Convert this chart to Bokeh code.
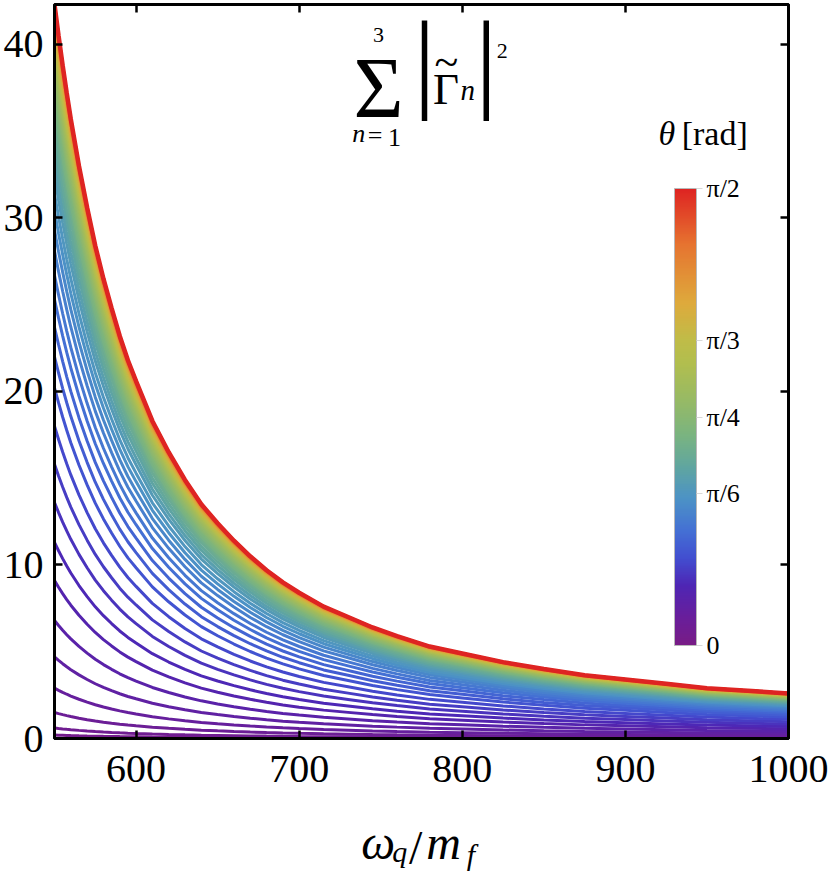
import numpy as np
from bokeh.plotting import figure
from bokeh.layouts import column
from bokeh.models import (ColumnDataSource, LinearColorMapper, ColorBar, FixedTicker,
                          Label, LinearAxis, Range1d, CustomLabelingPolicy)
from bokeh.embed import file_html
from bokeh.resources import INLINE

# ---------------- data ----------------
omega = [550, 552.5, 555, 557.5, 560, 565, 570, 575, 580, 585, 590, 595, 600, 610, 620,
         630, 640, 650, 660, 670, 680, 690, 700, 715, 730, 745, 760, 780, 800, 825, 850,
         875, 900, 925, 950, 975, 1000]
# the theta = pi/2 (top, red) curve
top_curve = [42.3, 40.5, 38.8, 37.2, 35.7, 33.0, 30.6, 28.4, 26.5, 24.8, 23.2, 21.8,
             20.6, 18.3, 16.5, 14.9, 13.5, 12.4, 11.4, 10.5, 9.7, 9.0, 8.4, 7.6, 7.0,
             6.4, 5.9, 5.3, 4.9, 4.4, 4.0, 3.65, 3.4, 3.15, 2.9, 2.75, 2.6]
# theta of each drawn curve (degrees)
theta_deg = [0, 1.5, 3, 4.5, 6, 7.5, 9, 10.5, 12, 13.5, 15, 16.5, 18, 19.5, 21, 22.5,
             24, 25.5, 27, 28.5, 30, 31.5, 33, 34.5, 36, 37.5, 39, 40.5, 42, 43.5, 45,
             46.5, 48, 49.5, 51, 52.5, 54, 55.5, 57, 58.5, 60, 61.5, 63, 64.5, 66, 67.5,
             69, 70.5, 72, 73.5, 75, 76.5, 78, 79.5, 81, 82.5, 84, 85.5, 87, 88.5, 90]
# value of each curve at omega = 550
start_values = [0.0, 0.2, 0.6, 1.5, 2.9, 4.7, 6.8, 9.1, 11.3, 13.6, 15.8, 18.0, 20.2,
                22.0, 23.7, 25.3, 26.7, 28.1, 29.3, 30.4, 31.4, 32.4, 33.2, 34.0, 34.7,
                35.4, 36.0, 36.5, 37.0, 37.5, 37.9, 38.3, 38.7, 39.0, 39.3, 39.6, 39.9,
                40.1, 40.3, 40.5, 40.7, 40.9, 41.1, 41.2, 41.35, 41.5, 41.6, 41.7, 41.8,
                41.9, 41.95, 42.0, 42.08, 42.13, 42.18, 42.22, 42.25, 42.27, 42.29, 42.3, 42.3]
x_ticks = [600, 700, 800, 900, 1000]
y_ticks = [0, 10, 20, 30, 40]
cb_ticks = [0, np.pi / 6, np.pi / 4, np.pi / 3, np.pi / 2]
cb_tick_labels = ["0", "π/6", "π/4", "π/3", "π/2"]

SERIF = "Liberation Serif"

# ---------------- colour map (rainbow, purple -> red) ----------------
stops = [(0.00, (120, 28, 134)), (0.06, (105, 30, 155)), (0.13, (78, 38, 180)),
         (0.19, (66, 78, 208)), (0.25, (68, 112, 212)), (0.32, (76, 146, 198)),
         (0.39, (96, 166, 160)), (0.46, (122, 180, 128)), (0.54, (152, 186, 100)),
         (0.62, (178, 190, 78)), (0.67, (192, 188, 72)), (0.75, (222, 170, 60)),
         (0.88, (230, 115, 48)), (1.00, (222, 36, 34))]
pos = np.array([s[0] for s in stops])
rgb = np.array([s[1] for s in stops], dtype=float)
t = np.linspace(0, 1, 256)
palette = ["#%02x%02x%02x" % tuple(int(round(np.interp(tt, pos, rgb[:, c]))) for c in range(3))
           for tt in t]
mapper = LinearColorMapper(palette=palette, low=0, high=np.pi / 2)

# ---------------- curves ----------------
top = np.array(top_curve)
shape = top / top[0]
xs, ys, th = [], [], []
for d, a in zip(theta_deg[:-1], start_values[:-1]):
    xs.append(omega)
    ys.append(list(a * shape))
    th.append(np.deg2rad(d))
src = ColumnDataSource(dict(xs=xs, ys=ys, theta=th))
src_top = ColumnDataSource(dict(xs=[omega], ys=[list(start_values[-1] * shape)],
                                theta=[np.deg2rad(theta_deg[-1])]))

p = figure(width=830, height=805, x_range=Range1d(550, 1000), y_range=Range1d(0, 42.3),
           output_backend="svg", toolbar_location=None,
           min_border_left=52, min_border_right=42, min_border_top=2, min_border_bottom=67)
p.grid.visible = False
p.outline_line_color = "black"
p.outline_line_width = 3
p.background_fill_color = "white"
p.border_fill_color = "white"

p.multi_line("xs", "ys", source=src, line_width=3,
             line_color={"field": "theta", "transform": mapper})
p.multi_line("xs", "ys", source=src_top, line_width=4.5,
             line_color={"field": "theta", "transform": mapper})

# ---------------- axes ----------------
def style_axis(ax, ticks, show_labels):
    ax.ticker = FixedTicker(ticks=ticks)
    ax.major_tick_in = 8
    ax.major_tick_out = 0
    ax.minor_tick_line_color = None
    ax.major_tick_line_width = 2.5
    ax.major_tick_line_color = "black"
    ax.axis_line_width = 3
    ax.axis_line_color = "black"
    if show_labels:
        ax.major_label_text_font = SERIF
        ax.major_label_text_font_size = "40px"
        ax.major_label_text_color = "black"
    else:
        ax.major_label_policy = CustomLabelingPolicy(
            code="for (const i of indices) { if (i < 0) { yield i } }")
        ax.major_label_text_font_size = "1px"
        ax.major_label_standoff = 0

ax_b = p.xaxis[0]
ax_l = p.yaxis[0]
style_axis(ax_b, x_ticks, True)
style_axis(ax_l, y_ticks, True)
ax_b.major_label_standoff = 17
ax_l.major_label_standoff = 11
ax_r = LinearAxis()
style_axis(ax_r, y_ticks, False)
p.add_layout(ax_r, "right")
ax_t = LinearAxis()
style_axis(ax_t, x_ticks, False)
p.add_layout(ax_t, "above")

# ---------------- colour bar ----------------
cb = ColorBar(color_mapper=mapper, ticker=FixedTicker(ticks=cb_ticks),
              major_label_overrides=dict(zip(cb_ticks, cb_tick_labels)),
              width=22, height=457, location=(620, 93), padding=0,
              background_fill_alpha=0, border_line_color=None,
              bar_line_color="#b8b8b8", bar_line_width=1,
              major_tick_line_color="#d8d8d8", major_tick_in=0, major_tick_out=6,
              minor_tick_line_color=None, label_standoff=4,
              major_label_text_font=SERIF, major_label_text_font_size="26px",
              major_label_text_color="black")
p.add_layout(cb, "center")

def lab(fig, x, y, text, size, style="normal", align="center", baseline="middle"):
    fig.add_layout(Label(x=x, y=y, text=text, text_font=SERIF, text_font_size=f"{size}px",
                         text_font_style=style, text_align=align, text_baseline=baseline,
                         text_color="black"))

# colour bar title
lab(p, 925.4, 34.89, "θ", 34, "italic")
lab(p, 954.75, 34.89, "[rad]", 34)

# formula title  sum_{n=1}^{3} |Gamma~_n|^2
lab(p, 748.71, 40.57, "3", 22)
lab(p, 748.71, 37.47, "Σ", 86)
lab(p, 736.5, 34.87, "n", 26, "italic")
lab(p, 746.5, 34.77, "=", 26)
lab(p, 758.5, 34.63, "1", 26)
lab(p, 776.83, 39.02, "|", 110)
lab(p, 790.28, 38.97, "~", 44)
lab(p, 789.98, 37.41, "Γ", 45)
lab(p, 803.43, 37.39, "n", 29, "italic")
lab(p, 814.74, 39.02, "|", 110)
lab(p, 824.53, 39.63, "2", 22)

# ---------------- x-axis label strip (omega_q / m_f) ----------------
p2 = figure(width=830, height=72, x_range=Range1d(0, 830), y_range=Range1d(0, 72),
            output_backend="svg", toolbar_location=None, title=None,
            x_axis_location=None, y_axis_location=None, min_border=0)
p2.grid.visible = False
p2.outline_line_color = None
p2.background_fill_color = "white"
p2.border_fill_color = "white"
# positions measured from the bottom of the strip
lab(p2, 366, 34.6, "ω", 48, "italic")
lab(p2, 390.5, 25.6, "q", 30, "italic")
lab(p2, 408.5, 30, "/", 48)
lab(p2, 440, 34.6, "m", 48, "italic")
lab(p2, 471, 22.6, "f", 30, "italic")

layout = column(p, p2, spacing=0)
open("out.html", "w").write(file_html(layout, INLINE))
